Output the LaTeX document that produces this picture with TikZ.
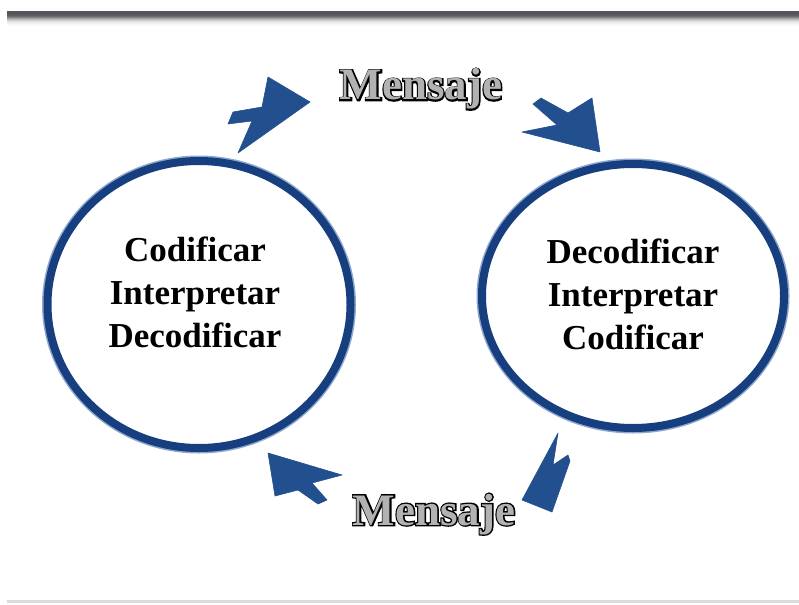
\documentclass[tikz,border=0pt]{standalone}
\usepackage{fontspec}
\setmainfont{Liberation Serif}
\newfontface\msgplain{Liberation Serif Bold}
\newfontface\msgthick{Liberation Serif Bold}[FakeBold=6]
\usetikzlibrary{shapes.geometric}
\definecolor{ringblue}{HTML}{173F7F}
\definecolor{ringsoft}{HTML}{8FA8CF}
\definecolor{arrowblue}{HTML}{22508F}
\definecolor{barshade}{HTML}{55555A}
\tikzset{
  ring/.style={ellipse, draw=ringblue, line width=8pt, inner sep=0pt, fill=white},
  ringhalo/.style={ellipse, draw=ringsoft, line width=11pt, inner sep=0pt},
  roletext/.style={font=\bfseries\fontsize{35}{43}\selectfont, align=center, inner sep=0pt, text=black},
  msgedge/.style={font=\msgthick\fontsize{45}{50}\selectfont, inner sep=0pt, anchor=base, text=black},
  msgbody/.style={font=\msgplain\fontsize{45}{50}\selectfont, inner sep=0pt, anchor=base, text=black!30},
  swoosh/.style={fill=arrowblue, draw=arrowblue, line width=0.6pt, line join=round}
}
\begin{document}
\begin{tikzpicture}[x=1pt, y=-1pt]
\useasboundingbox (0,0) rectangle (799,604);

% header rule fading downwards
\foreach \i/\t in {0/100,1/100,2/100,3/98,4/94,5/86,6/72,7/55,8/40,9/28,10/19,11/12,12/8,13/5,14/3}
  \fill[barshade!\t!white] (7,{11+\i}) rectangle (799,{12+\i});
% footer rule
\fill[black!14] (7,600) rectangle (799,603);

% the two participants
\node[ringhalo, minimum width=303pt, minimum height=287pt] (leftHalo) at (199,304.5) {};
\node[ring, minimum width=303pt, minimum height=287pt] (leftRing) at (199,304.5) {};
\node[ringhalo, minimum width=302pt, minimum height=264pt] (rightHalo) at (633,296) {};
\node[ring, minimum width=302pt, minimum height=264pt] (rightRing) at (633,296) {};

\node[roletext] (leftText) at (195,292) {Codificar\\Interpretar\\Decodificar};
\node[roletext] (rightText) at (633,294) {Decodificar\\Interpretar\\Codificar};

% arrows of the exchange
\filldraw[swoosh] (310,102) -- (268,77) -- (262,107) -- (233,112) -- (228,124)
  -- (252,121) -- (238,153) -- cycle;
\filldraw[swoosh] (600,152) -- (522,132) -- (557,125) -- (533,104) -- (541,98)
  -- (568,113) -- (592,98) -- cycle;
\filldraw[swoosh] (522,500) -- (558,433) -- (553,465) -- (568,455) -- (570,461)
  -- (552,512) -- cycle;
\filldraw[swoosh] (268,453) -- (342,475) -- (312,483) -- (327,500) -- (318,504)
  -- (298,490) -- (275,496) -- cycle;

% outlined "Mensaje" labels: thick black glyphs under light ones
\node[msgedge] (msgEdgeTop) at (421,100) {Mensaje};
\node[msgbody] (msgTop) at (421,100) {Mensaje};
\node[msgedge] (msgEdgeBottom) at (434,525) {Mensaje};
\node[msgbody] (msgBottom) at (434,525) {Mensaje};
\end{tikzpicture}
\end{document}
